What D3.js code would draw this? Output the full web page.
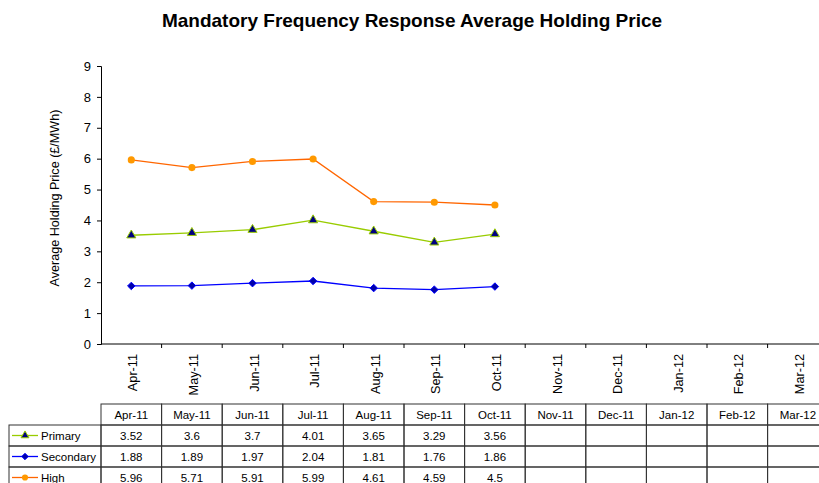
<!DOCTYPE html>
<html>
<head>
<meta charset="utf-8">
<script src="https://cdn.jsdelivr.net/npm/d3@7"></script>
<style>
  body { margin: 0; background: #fff; }
  svg { display: block; font-family: "Liberation Sans", Arial, sans-serif; }
</style>
</head>
<body>
<div id="chart"></div>
<script>
// chart data
const months = ['Apr-11', 'May-11', 'Jun-11', 'Jul-11', 'Aug-11', 'Sep-11', 'Oct-11',
                'Nov-11', 'Dec-11', 'Jan-12', 'Feb-12', 'Mar-12'];
const primary = [3.52, 3.6, 3.7, 4.01, 3.65, 3.29, 3.56];
const secondary = [1.88, 1.89, 1.97, 2.04, 1.81, 1.76, 1.86];
const high = [5.96, 5.71, 5.91, 5.99, 4.61, 4.59, 4.5];
const yTicks = [0, 1, 2, 3, 4, 5, 6, 7, 8, 9];

// square diamond marker
const squareDiamond = {
    draw(ctx, size) {
        const r = Math.sqrt(size / 2);
        ctx.moveTo(0, -r);
        ctx.lineTo(r, 0);
        ctx.lineTo(0, r);
        ctx.lineTo(-r, 0);
        ctx.closePath();
    }
};

const series = [
    { name: 'Primary', values: primary, line: '#99cc00', fill: '#000080', stroke: '#99cc00', shape: d3.symbolTriangle, size: 36, sw: 1 },
    { name: 'Secondary', values: secondary, line: '#0000ff', fill: '#0000aa', stroke: '#0000ff', shape: squareDiamond, size: 28, sw: 1 },
    { name: 'High', values: high, line: '#ff6600', fill: '#ff9900', stroke: '#ff9900', shape: d3.symbolCircle, size: 40, sw: 0 }
];

const W = 819, H = 483;
const svg = d3.select('#chart').append('svg')
    .attr('width', W)
    .attr('height', H);

const x = d3.scaleBand()
    .domain(months)
    .range([101, 101 + 12 * 60.6]);

const y = d3.scaleLinear()
    .domain([0, 9])
    .range([344, 66]);

// title
svg.append('text')
    .attr('x', 412)
    .attr('y', 27)
    .attr('text-anchor', 'middle')
    .attr('font-size', 19)
    .attr('font-weight', 'bold')
    .text('Mandatory Frequency Response Average Holding Price');

// y axis
const yAxis = svg.append('g')
    .attr('transform', 'translate(101,0)')
    .call(d3.axisLeft(y).tickValues(yTicks).tickSize(4).tickPadding(6));
yAxis.select('.domain').attr('stroke', '#000');
yAxis.selectAll('text').attr('font-size', 13).attr('font-family', '"Liberation Sans", Arial, sans-serif');

svg.append('text')
    .attr('transform', 'translate(59,198) rotate(-90)')
    .attr('text-anchor', 'middle')
    .attr('font-size', 12.6)
    .text('Average Holding Price (£/MWh)');

// x axis with ticks between categories
svg.append('line')
    .attr('x1', 101).attr('x2', W)
    .attr('y1', y(0)).attr('y2', y(0))
    .attr('stroke', '#000');
svg.selectAll('.xtick')
    .data(months)
    .enter()
    .append('line')
    .attr('class', 'xtick')
    .attr('x1', d => x(d) + x.bandwidth())
    .attr('x2', d => x(d) + x.bandwidth())
    .attr('y1', y(0)).attr('y2', y(0) + 4)
    .attr('stroke', '#000');
svg.selectAll('.xlabel')
    .data(months)
    .enter()
    .append('text')
    .attr('class', 'xlabel')
    .attr('transform', d => `translate(${x(d) + x.bandwidth() / 2 + 6},${y(0) + 10}) rotate(-90)`)
    .attr('text-anchor', 'end')
    .attr('font-size', 12.7)
    .text(d => d);

// lines and markers
const line = d3.line()
    .x((d, i) => x(months[i]) + x.bandwidth() / 2)
    .y(d => y(d));

series.forEach(s => {
    svg.append('path')
        .datum(s.values)
        .attr('fill', 'none')
        .attr('stroke', s.line)
        .attr('stroke-width', 1.3)
        .attr('d', line);
    svg.selectAll(null)
        .data(s.values)
        .enter()
        .append('path')
        .attr('transform', (d, i) => `translate(${x(months[i]) + x.bandwidth() / 2},${y(d)})`)
        .attr('d', d3.symbol().type(s.shape).size(s.size))
        .attr('fill', s.fill)
        .attr('stroke', s.stroke)
        .attr('stroke-width', s.sw);
});

// data table
const tableTop = 404, headH = 21, rowH = 21;
const table = svg.append('g');
const borderColor = '#333';

// header row
months.forEach(m => {
    table.append('rect')
        .attr('x', x(m)).attr('y', tableTop)
        .attr('width', x.step()).attr('height', headH)
        .attr('fill', 'none').attr('stroke', borderColor);
    table.append('text')
        .attr('x', x(m) + x.step() / 2).attr('y', tableTop + 15)
        .attr('text-anchor', 'middle')
        .attr('font-size', 11.5)
        .text(m);
});

series.forEach((s, r) => {
    const ry = tableTop + headH + r * rowH;
    table.append('rect')
        .attr('x', 9).attr('y', ry)
        .attr('width', 92).attr('height', rowH)
        .attr('fill', 'none').attr('stroke', borderColor);
    table.append('line')
        .attr('x1', 12).attr('x2', 38)
        .attr('y1', ry + 10.5).attr('y2', ry + 10.5)
        .attr('stroke', s.line).attr('stroke-width', 1.3);
    table.append('path')
        .attr('transform', `translate(25,${ry + 10.5})`)
        .attr('d', d3.symbol().type(s.shape).size(s.size * 0.75))
        .attr('fill', s.fill)
        .attr('stroke', s.stroke)
        .attr('stroke-width', s.sw);
    table.append('text')
        .attr('x', 41).attr('y', ry + 14.5)
        .attr('font-size', 11.5)
        .text(s.name);
    months.forEach((m, i) => {
        table.append('rect')
            .attr('x', x(m)).attr('y', ry)
            .attr('width', x.step()).attr('height', rowH)
            .attr('fill', 'none').attr('stroke', borderColor);
        if (s.values[i] !== undefined) {
            table.append('text')
                .attr('x', x(m) + x.step() / 2).attr('y', ry + 14.5)
                .attr('text-anchor', 'middle')
                .attr('font-size', 11.5)
                .text(s.values[i]);
        }
    });
});
</script>
</body>
</html>
